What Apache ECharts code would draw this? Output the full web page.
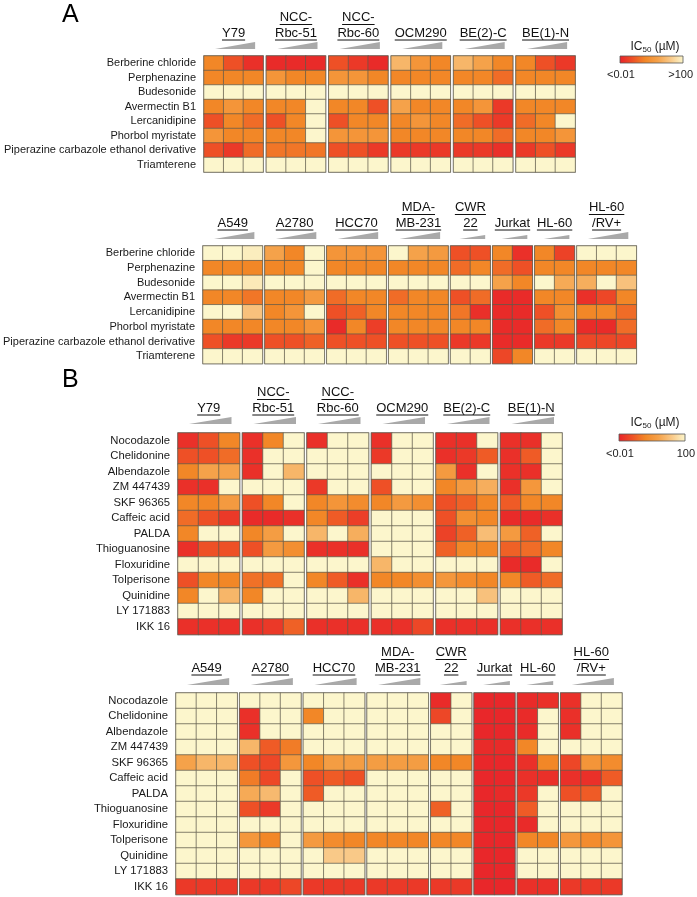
<!DOCTYPE html>
<html>
<head>
<meta charset="utf-8">
<script src="https://cdn.jsdelivr.net/npm/echarts@6/dist/echarts.min.js"></script>
<style>
html, body { margin: 0; background: #fff; }
#chart { width: 697px; height: 897px; }
</style>
</head>
<body>
<div id="chart"></div>
<script>
// drug names, one per row
const drugsA = ['Berberine chloride', 'Perphenazine', 'Budesonide', 'Avermectin B1', 'Lercanidipine',
  'Phorbol myristate', 'Piperazine carbazole ethanol derivative', 'Triamterene']
const drugsB = ['Nocodazole', 'Chelidonine', 'Albendazole', 'ZM 447439', 'SKF 96365', 'Caffeic acid', 'PALDA',
  'Thioguanosine', 'Floxuridine', 'Tolperisone', 'Quinidine', 'LY 171883', 'IKK 16']

// cell lines (header lines) and number of dose columns
const topLines = [['Y79'], ['NCC-', 'Rbc-51'], ['NCC-', 'Rbc-60'], ['OCM290'], ['BE(2)-C'], ['BE(1)-N']]
const topCols = [3, 3, 3, 3, 3, 3]
const bottomLines = [['A549'], ['A2780'], ['HCC70'], ['MDA-', 'MB-231'], ['CWR', '22'], ['Jurkat'], ['HL-60'], ['HL-60', '/RV+']]
const bottomCols = [3, 3, 3, 3, 2, 2, 2, 3]

// IC50 level, 0 = <0.01 uM ... 5 = >100 uM
const levelsATop = [
  [2, 1, 0.3, 0.2, 0.2, 0.2, 1, 0.5, 0.2, 3.5, 2.5, 2, 3.5, 3, 2, 2, 1, 0.5],
  [2, 2, 2, 2.5, 2, 2, 2.5, 2.5, 2, 2, 2, 2, 2, 2, 1.5, 2, 2, 2],
  [5, 5, 5, 5, 5, 5, 5, 5, 5, 5, 5, 5, 5, 5, 5, 5, 5, 5],
  [2, 2.5, 2, 2, 2, 5, 2, 2, 1, 3, 2, 2, 2, 2.5, 0.5, 2, 2, 2],
  [1, 2, 1.5, 1, 2, 5, 1, 2, 2, 2, 2.5, 2, 1.5, 1, 0.5, 1.5, 2, 5],
  [2.5, 2, 2, 2, 2, 5, 2.5, 2.5, 2.5, 2, 2, 2, 2, 2, 1.5, 2, 2, 2.5],
  [1, 0.5, 1.5, 1.7, 1.7, 1.7, 1, 1, 0.5, 0.5, 0.5, 0.5, 0.5, 0.5, 0.3, 0.5, 1, 0.5],
  [5, 5, 5, 5, 5, 5, 5, 5, 5, 5, 5, 5, 5, 5, 5, 5, 5, 5]
]
const levelsABottom = [
  [5, 5, 4.8, 3, 2, 5, 2.5, 2.5, 2.5, 5, 3, 2.7, 1, 1, 2, 0.3, 2, 0.7, 5, 5, 5],
  [2, 2, 2, 2, 2, 5, 2, 2, 2, 2, 2, 2, 1.5, 2, 1.5, 1, 2, 2, 2, 2, 2],
  [5, 5, 4.7, 5, 5, 5, 5, 5, 5, 5, 5, 5, 5, 5, 3, 2, 5, 3.2, 3.3, 5, 3.8],
  [2, 2, 1.7, 2, 2, 2.7, 1.5, 2, 2, 1.5, 2, 2, 1, 1.5, 0.2, 0.2, 2, 2, 0.3, 0.8, 2],
  [5, 5, 3.8, 2, 2.5, 5, 1, 1.3, 2, 2, 2, 2, 1.7, 0.3, 0.2, 0.2, 1, 2.3, 2, 2, 1.5],
  [2, 2, 2, 2, 2, 2.5, 0.2, 2, 0.6, 2, 2, 2, 2, 2, 0.2, 0.2, 1.5, 2, 0.2, 0.2, 1.5],
  [1, 0.5, 0.5, 1, 1, 1.3, 1, 1, 1, 1, 1, 1, 0.5, 0.5, 0.2, 0.2, 0.5, 0.5, 0.8, 0.8, 0.8],
  [5, 5, 5, 5, 5, 5, 5, 5, 5, 5, 5, 5, 5, 5, 0.8, 2, 5, 5, 5, 5, 5]
]
const levelsBTop = [
  [0.3, 1, 2, 0.3, 2, 5, 0.3, 5, 5, 0.3, 5, 5, 0.3, 0.3, 5, 0.3, 0.3, 5],
  [1, 1, 1.5, 0.3, 5, 5, 5, 5, 5, 0.5, 5, 5, 0.3, 0.5, 1.2, 0.3, 1.2, 5],
  [2, 3, 3, 0.3, 5, 3.5, 5, 5, 5, 5, 5, 5, 2.7, 0.3, 5, 0.3, 0.3, 5],
  [0.3, 0.3, 5, 5, 5, 5, 0.5, 5, 5, 1, 5, 5, 2, 2.7, 3.3, 0.3, 2.6, 5],
  [2, 2, 2.7, 1, 2, 5, 2, 2.5, 2.2, 2, 2.7, 2.3, 1, 1.3, 2, 1.2, 2, 2],
  [1.5, 1, 0.5, 0.2, 0.2, 0.3, 2, 1.2, 0.6, 5, 5, 5, 1, 2.3, 2, 0.2, 0.2, 0.3],
  [2, 5, 5, 2, 2.8, 5, 3.5, 5, 3.3, 5, 5, 5, 0.7, 1.3, 3.7, 2.7, 1.3, 5],
  [0.3, 1, 1, 1, 2.7, 2.3, 0.3, 0.3, 0.3, 5, 5, 5, 1.3, 2, 2, 1.3, 1.5, 2],
  [5, 5, 5, 5, 5, 5, 5, 5, 5, 3.5, 5, 5, 5, 5, 5, 0.2, 0.2, 5],
  [1, 2, 2, 1.6, 1.6, 5, 2, 1.2, 0.3, 2, 2, 2.3, 2.6, 2.2, 2, 2, 1.2, 1.5],
  [2, 5, 3.5, 2, 5, 5, 5, 5, 3.5, 5, 5, 5, 5, 5, 3.8, 5, 5, 5],
  [5, 5, 5, 5, 5, 5, 5, 5, 5, 5, 5, 5, 5, 5, 5, 5, 5, 5],
  [0.3, 0.3, 0.3, 0.3, 0.5, 1.3, 0.3, 0.3, 0.3, 0.3, 0.3, 0.8, 0.3, 0.3, 0.3, 0.3, 0.3, 0.3]
]
const levelsBBottom = [
  [5, 5, 5, 5, 5, 5, 5, 5, 5, 5, 5, 5, 0.2, 5, 0.1, 0.1, 0.2, 0.3, 0.3, 5, 5],
  [5, 5, 5, 0.3, 5, 5, 2, 5, 5, 5, 5, 5, 0.8, 5, 0.1, 0.1, 0.2, 5, 0.3, 5, 5],
  [5, 5, 5, 0.3, 5, 5, 5, 5, 5, 5, 5, 5, 5, 5, 0.1, 0.1, 0.2, 5, 0.3, 5, 5],
  [5, 5, 5, 3.5, 1.2, 1.8, 5, 5, 5, 5, 5, 5, 5, 5, 0.2, 0.2, 2, 5, 5, 5, 5],
  [3, 3.5, 3.5, 1, 0.8, 2.6, 2, 2.8, 2.8, 2.8, 2.8, 2.8, 2, 2, 0.1, 0.1, 0.3, 2, 0.8, 2.5, 2.2],
  [5, 5, 5, 1.8, 0.8, 5, 1, 1.2, 1, 5, 5, 5, 5, 5, 0.1, 0.1, 0.3, 0.3, 0.3, 0.3, 1.2],
  [5, 5, 5, 3.2, 3.6, 5, 1.2, 5, 5, 5, 5, 5, 5, 5, 0.1, 0.2, 0.5, 5, 1, 1.2, 5],
  [5, 5, 5, 1, 0.5, 5, 5, 5, 5, 5, 5, 5, 1.3, 5, 0.1, 0.1, 1.2, 5, 5, 5, 5],
  [5, 5, 5, 5, 5, 5, 5, 5, 5, 5, 5, 5, 5, 5, 0.1, 0.1, 0.2, 5, 5, 5, 5],
  [5, 5, 5, 2.6, 2, 5, 2.7, 2.2, 2, 2, 2, 2, 2, 2, 0.1, 0.1, 2, 2, 2.6, 2.2, 2.5],
  [5, 5, 5, 5, 5, 5, 5, 4, 4, 5, 5, 5, 5, 5, 0.1, 0.1, 5, 5, 5, 5, 5],
  [5, 5, 5, 5, 5, 5, 5, 5, 5, 5, 5, 5, 5, 5, 0.1, 0.1, 5, 5, 5, 5, 5],
  [0.5, 0.5, 0.5, 0.5, 0.5, 0.8, 0.5, 0.5, 0.5, 0.5, 0.5, 0.5, 0.5, 0.5, 0.1, 0.1, 0.3, 0.3, 0.5, 0.5, 0.5]
]

const palette = ['#e8222a', '#ee5026', '#f28727', '#f5a24a', '#f9c988', '#fcf6cc']
const FONT = '"Liberation Sans", Arial, Helvetica, sans-serif'

// layout of the four panels
const panels = [
  { lines: topLines, cols: topCols, drugs: drugsA, values: levelsATop, left: 204, cellW: 19.7, gap: 3.3, top: 56, rowH: 14.5, fs: 11, last: -23, triB: -7 },
  { lines: bottomLines, cols: bottomCols, drugs: drugsA, values: levelsABottom, left: 203, cellW: 19.8, gap: 2.5, top: 246, rowH: 14.7, fs: 11, last: -23, triB: -7 },
  { lines: topLines, cols: topCols, drugs: drugsB, values: levelsBTop, left: 178, cellW: 20.5, gap: 3, top: 433, rowH: 15.5, fs: 11.3, last: -25, triB: -9 },
  { lines: bottomLines, cols: bottomCols, drugs: drugsB, values: levelsBBottom, left: 176, cellW: 20.4, gap: 2.5, top: 693, rowH: 15.5, fs: 11.3, last: -25, triB: -8 }
]

const ctx = document.createElement('canvas').getContext('2d')
function textWidth(t, size) {
  ctx.font = size + 'px ' + FONT
  return ctx.measureText(t).width
}

const grid = [], xAxis = [], yAxis = [], series = [], graphic = []
let k = 0
panels.forEach(p => {
  let x = p.left
  let off = 0
  p.cols.forEach((n, gi) => {
    const w = n * p.cellW
    grid.push({ left: x, top: p.top, width: w, height: p.drugs.length * p.rowH, show: true, borderColor: '#9a9a9a', borderWidth: 1.5, backgroundColor: 'transparent' })
    xAxis.push({ type: 'category', gridIndex: k, data: Array.from({ length: n }, (_, i) => i), show: false })
    yAxis.push({
      type: 'category', gridIndex: k, data: p.drugs, inverse: true,
      axisLine: { show: false }, axisTick: { show: false }, splitLine: { show: false },
      axisLabel: { show: gi === 0, interval: 0, margin: 8, fontSize: p.fs, color: '#1a1a1a', fontFamily: FONT }
    })
    const data = []
    p.values.forEach((row, r) => {
      for (let c = 0; c < n; c++) data.push([c, r, row[off + c]])
    })
    series.push({
      type: 'heatmap', xAxisIndex: k, yAxisIndex: k, data: data,
      itemStyle: { borderColor: '#5e5a4c', borderWidth: 0.7 },
      emphasis: { disabled: true }
    })
    // header text, underlined
    const cx = x + w / 2
    const lastY = p.top + p.last
    const lines = p.lines[gi]
    lines.forEach((t, li) => {
      const y = lastY - (lines.length - 1 - li) * 15.5
      const tw = textWidth(t, 13)
      graphic.push({ type: 'text', silent: true, style: { text: t, x: cx, y: y, align: 'center', verticalAlign: 'middle', textAlign: 'center', textVerticalAlign: 'middle', font: '13px ' + FONT, fill: '#111' } })
      graphic.push({ type: 'line', silent: true, shape: { x1: cx - tw / 2, y1: y + 7, x2: cx + tw / 2, y2: y + 7 }, style: { stroke: '#111', lineWidth: 1 } })
    })
    // dose wedge
    const yb = p.top + p.triB
    const h = n === 3 ? 7 : 4
    const x1 = x + (n === 3 ? 11 : 9)
    const x2 = x + w - (n === 3 ? 8 : 5)
    graphic.push({ type: 'polygon', silent: true, shape: { points: [[x1, yb], [x2, yb], [x2, yb - h]] }, style: { fill: '#a9a9a9' } })
    x += w + p.gap
    off += n
    k++
  })
})

// panel letters
graphic.push({ type: 'text', style: { text: 'A', x: 62, y: 15, verticalAlign: 'middle', textVerticalAlign: 'middle', font: '25px ' + FONT, fill: '#000' } })
graphic.push({ type: 'text', style: { text: 'B', x: 62, y: 380, verticalAlign: 'middle', textVerticalAlign: 'middle', font: '25px ' + FONT, fill: '#000' } })

// colour keys
function colourKey(cx, ty, barX, barY, barW, lowTxt, highTxt, labY) {
  graphic.push({
    type: 'text', style: {
      text: '{a|IC}{s|50}{a| (µM)}', x: cx, y: ty, align: 'center', verticalAlign: 'middle', textAlign: 'center', textVerticalAlign: 'middle',
      rich: { a: { fontSize: 12, fontFamily: FONT, lineHeight: 16, fill: '#222' }, s: { fontSize: 8, fontFamily: FONT, lineHeight: 16, padding: [6, 0, 0, 0], fill: '#222' } }
    }
  })
  graphic.push({
    type: 'rect', shape: { x: barX, y: barY, width: barW, height: 7 },
    style: {
      fill: { type: 'linear', x: 0, y: 0, x2: 1, y2: 0, colorStops: palette.map((c, i) => ({ offset: i / (palette.length - 1), color: c })) },
      stroke: '#555', lineWidth: 0.8
    }
  })
  graphic.push({ type: 'text', style: { text: lowTxt, x: barX - 13, y: labY, verticalAlign: 'middle', textVerticalAlign: 'middle', font: '11px ' + FONT, fill: '#222' } })
  graphic.push({ type: 'text', style: { text: highTxt, x: barX + barW + 10, y: labY, align: 'right', textAlign: 'right', verticalAlign: 'middle', textVerticalAlign: 'middle', font: '11px ' + FONT, fill: '#222' } })
}
colourKey(655, 47, 620, 56, 63, '<0.01', '>100', 75)
colourKey(655, 423, 619, 434, 66, '<0.01', '100', 454)

const chart = echarts.init(document.getElementById('chart'), null, { renderer: 'canvas' })
chart.setOption({
  animation: false,
  backgroundColor: '#fff',
  visualMap: { show: false, min: 0, max: 5, inRange: { color: palette } },
  grid: grid,
  xAxis: xAxis,
  yAxis: yAxis,
  series: series,
  graphic: graphic
})
</script>
</body>
</html>
